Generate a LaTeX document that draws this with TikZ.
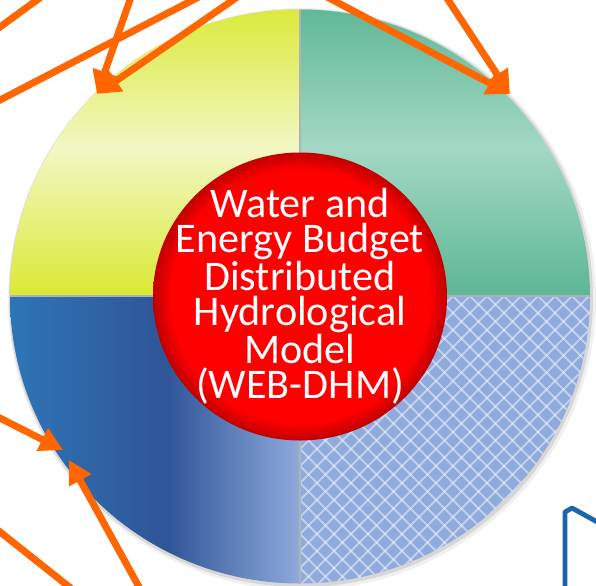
\documentclass[tikz,border=0pt]{standalone}
\usepackage{fontspec}
\usepackage{xcolor}
\usepackage{tikz}
\usetikzlibrary{arrows.meta}

\newfontfamily\modelfont{Carlito}

\definecolor{ringyellow}{HTML}{D9E933}
\definecolor{ringpale}{HTML}{F2F7C4}
\definecolor{ringteal}{HTML}{5CB694}
\definecolor{ringmint}{HTML}{A3D8C5}
\definecolor{blueL}{HTML}{2E75B6}
\definecolor{blueM}{HTML}{2F5597}
\definecolor{blueR}{HTML}{8FAADC}
\definecolor{hatchbase}{HTML}{8FAADC}
\definecolor{feedorange}{HTML}{FF6600}
\definecolor{frameblue}{HTML}{1A64B0}

% shadings for the lower-left quarter and the red core
\pgfdeclarehorizontalshading{bluesweep}{100bp}{color(0bp)=(blueL); color(25bp)=(blueL); color(52bp)=(blueM); color(75bp)=(blueR); color(100bp)=(blueR)}
\pgfdeclareradialshading{redcore}{\pgfpoint{0bp}{0bp}}{color(0bp)=(red); color(22bp)=(red); color(25bp)=(red!75!black); color(50bp)=(red!75!black)}

\begin{document}
\begin{tikzpicture}[x=0.025cm, y=-0.025cm,
  feed/.style={draw=feedorange, line width=0.175cm, -{Triangle[length=0.58cm, width=0.6cm]}},
  feedline/.style={draw=feedorange, line width=0.175cm},
  hatch/.style={white, opacity=0.45, line width=0.05cm},
  divider/.style={gray!60, line width=0.03cm}]
\fill[white] (0,0) rectangle (596,585);
\useasboundingbox (0,0) rectangle (596,585);

% Soft shadow under the ring
\fill[black, opacity=0.06] (302,299) ellipse [x radius=294, y radius=291];
\fill[black, opacity=0.10] (301,298) ellipse [x radius=292, y radius=289];

% Outer ring: four quarters
\begin{scope}
\clip (300,296.5) ellipse [x radius=290, y radius=287];
\shade[top color=ringyellow, bottom color=ringyellow, middle color=ringpale] (0,0) rectangle (300,296);
\shade[top color=ringteal, bottom color=ringteal, middle color=ringmint] (300,0) rectangle (600,296);
\shade[shading=bluesweep] (10,296) rectangle (300,600);
\fill[hatchbase] (300,296) rectangle (600,600);
% Crosshatch on the lower-right quarter
\begin{scope}
\clip (300,296) rectangle (600,600);
\foreach \k in {-20,...,40} {
  \draw[hatch] ({300+\k*17},296) -- ++(300,300);
  \draw[hatch] ({300+\k*17},296) -- ++(-300,300);
}
\end{scope}
\draw[divider] (300,0) -- (300,600);
\draw[divider] (0,296) -- (600,296);
\end{scope}

% Red core with the model name
\shade[shading=redcore] (300,296.5) ellipse [x radius=147, y radius=144];
\node[text=white, font=\modelfont\fontsize{30}{25}\selectfont, align=center] (model) at (300,296)
  {Water and\\Energy Budget\\Distributed\\Hydrological\\Model\\(WEB-DHM)};

% Arrow tips on the ring
\coordinate (tipNW) at (97,94);
\coordinate (tipNE) at (510,94);
\coordinate (tipSWa) at (63,450);
\coordinate (tipSWb) at (69,460);

% Arrow tails outside the frame
\coordinate (srcA) at (137,-20);
\coordinate (srcB) at (262,-20);
\coordinate (srcC) at (295,-20);
\coordinate (srcD) at (435,-20);
\coordinate (srcE) at (-20,408);
\coordinate (srcF) at (149,605);

\draw[feed] (srcA) -- (tipNW);
\draw[feed] (srcB) -- (tipNW);
\draw[feed] (srcC) -- (tipNE);
\draw[feed] (srcD) -- (tipNE);
\draw[feed] (srcE) -- (tipSWa);
\draw[feed] (srcF) -- (tipSWb);

% Passing lines without heads
\draw[feedline] (-20,41.6) -- (57,-14.6);
\draw[feedline] (-20,110.4) -- (213,-10.4);
\draw[feedline] (-20,516) -- (87,601);

% Corner of a frame at lower right
\draw[frameblue, line width=0.12cm, line join=round] (565,600) -- (565,512) -- (572,508) -- (610,529);
\end{tikzpicture}
\end{document}
